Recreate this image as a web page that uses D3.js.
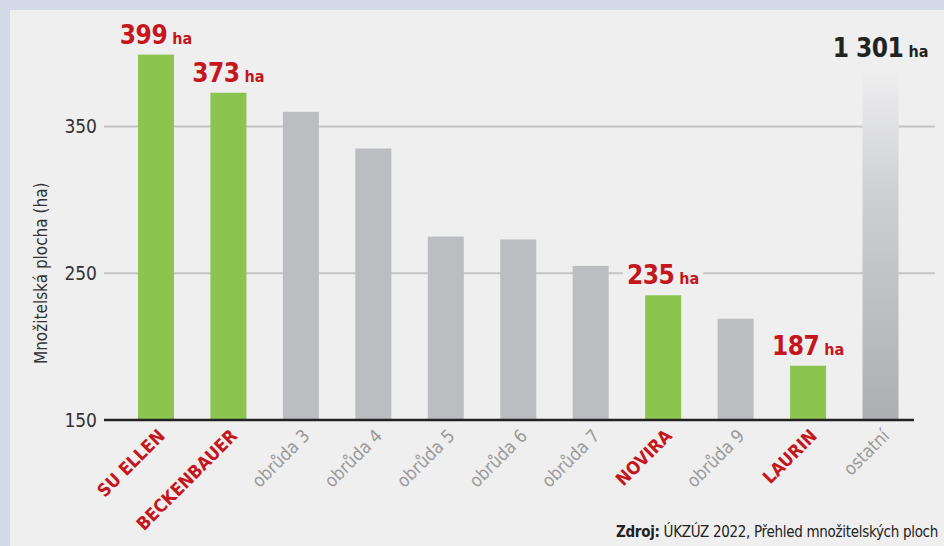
<!DOCTYPE html>
<html>
<head>
<meta charset="utf-8">
<script src="https://cdn.jsdelivr.net/npm/d3@7"></script>
<style>
  html, body { margin: 0; padding: 0; background: #d3d9e7; }
  svg { display: block; }
  text { font-family: "Liberation Sans Narrow", "DejaVu Sans Condensed", "Open Sans", sans-serif; font-stretch: condensed; }
</style>
</head>
<body>
<div id="chart"></div>
<script>
// data
const categories = ["SU ELLEN", "BECKENBAUER", "obrůda 3", "obrůda 4", "obrůda 5", "obrůda 6", "obrůda 7", "NOVIRA", "obrůda 9", "LAURIN", "ostatní"];
const values = [399, 373, 360, 335, 275, 273, 255, 235, 219, 187, 1301];
const highlighted = ["SU ELLEN", "BECKENBAUER", "NOVIRA", "LAURIN"];
const labelled = ["SU ELLEN", "BECKENBAUER", "NOVIRA", "LAURIN", "ostatní"];
const truncated = ["ostatní"];
const yTicks = [150, 250, 350];
const capValue = 390;   // truncated bar is cut off at this height

const width = 944, height = 546;
const red = "#c5161d", green = "#8bc550", gray = "#bcbdc1";

const shown = d => truncated.includes(d.c) ? Math.min(d.v, capValue) : d.v;

const svg = d3.select("#chart").append("svg")
    .attr("width", width)
    .attr("height", height);

// panel
svg.append("rect")
    .attr("x", 10).attr("y", 10)
    .attr("width", width - 10).attr("height", height - 10)
    .attr("fill", "#efefef");

const x = d3.scaleBand()
    .domain(categories)
    .range([104, 932.5])
    .paddingInner(0.503)
    .paddingOuter(0.469);

const y = d3.scaleLinear()
    .domain([150, 350])
    .range([420, 126.5]);

// gradient for the "ostatní" bar
const grad = svg.append("defs").append("linearGradient")
    .attr("id", "fade")
    .attr("x1", 0).attr("y1", 0).attr("x2", 0).attr("y2", 1);
grad.append("stop").attr("offset", "0%").attr("stop-color", "#efeff0");
grad.append("stop").attr("offset", "35%").attr("stop-color", "#cfd0d3");
grad.append("stop").attr("offset", "100%").attr("stop-color", "#adaeb2");

// grid lines
svg.append("g")
    .selectAll("line")
    .data(yTicks.filter(d => d > 150))
    .join("line")
    .attr("x1", 104).attr("x2", 935)
    .attr("y1", d => y(d)).attr("y2", d => y(d))
    .attr("stroke", "#c4c4c4")
    .attr("stroke-width", 2);

// tick labels
svg.append("g")
    .selectAll("text")
    .data(yTicks)
    .join("text")
    .attr("x", 97)
    .attr("y", d => y(d))
    .attr("dy", "0.35em")
    .attr("text-anchor", "end")
    .attr("font-size", 19)
    .attr("fill", "#333")
    .text(d => d);

// axis title
svg.append("text")
    .attr("transform", `translate(47,${y(250)}) rotate(-90)`)
    .attr("text-anchor", "middle")
    .attr("font-size", 17)
    .attr("fill", "#333")
    .text("Množitelská plocha (ha)");

const rows = categories.map((c, i) => ({ c, v: values[i] }));

// value labels (with knock-out background)
const fmt = v => d3.format(",")(v).replace(/,/g, " ");
const labels = svg.append("g")
    .selectAll("g")
    .data(rows.filter(d => labelled.includes(d.c)))
    .join("g")
    .attr("transform", d => `translate(${x(d.c) + x.bandwidth() / 2},${y(shown(d)) - 11})`);

const labelText = labels.append("text")
    .attr("text-anchor", "middle")
    .attr("font-weight", "bold")
    .attr("fill", d => highlighted.includes(d.c) ? red : "#222");
labelText.append("tspan").attr("font-size", 26).attr("letter-spacing", -0.5).text(d => fmt(d.v));
labelText.append("tspan").attr("font-size", 16).attr("dx", 5).text("ha");

labels.each(function() {
    const g = d3.select(this);
    const b = g.select("text").node().getBBox();
    g.insert("rect", "text")
        .attr("x", b.x - 4).attr("y", b.y)
        .attr("width", b.width + 8).attr("height", b.height)
        .attr("fill", "#efefef");
});

// bars
svg.append("g")
    .selectAll("rect")
    .data(rows)
    .join("rect")
    .attr("x", d => x(d.c))
    .attr("width", x.bandwidth())
    .attr("y", d => y(shown(d)))
    .attr("height", d => y(150) - y(shown(d)))
    .attr("fill", d => truncated.includes(d.c) ? "url(#fade)" : highlighted.includes(d.c) ? green : gray);

// baseline
svg.append("line")
    .attr("x1", 104).attr("x2", 914)
    .attr("y1", y(150)).attr("y2", y(150))
    .attr("stroke", "#222")
    .attr("stroke-width", 2.5);

// category labels
svg.append("g")
    .selectAll("text")
    .data(categories)
    .join("text")
    .attr("transform", d => `translate(${x(d) + x.bandwidth() / 2 + 10},${y(150) + 17}) rotate(-45)`)
    .attr("text-anchor", "end")
    .attr("font-size", 18)
    .attr("font-weight", d => highlighted.includes(d) ? "bold" : "normal")
    .attr("fill", d => highlighted.includes(d) ? red : "#9a9a9a")
    .text(d => d);

// source
const src = svg.append("text")
    .attr("x", 938)
    .attr("y", 537)
    .attr("text-anchor", "end")
    .attr("font-size", 15)
    .attr("letter-spacing", -0.3)
    .attr("fill", "#222");
src.append("tspan").attr("font-weight", "bold").text("Zdroj:");
src.append("tspan").text(" ÚKZÚZ 2022, Přehled množitelských ploch");
</script>
</body>
</html>
